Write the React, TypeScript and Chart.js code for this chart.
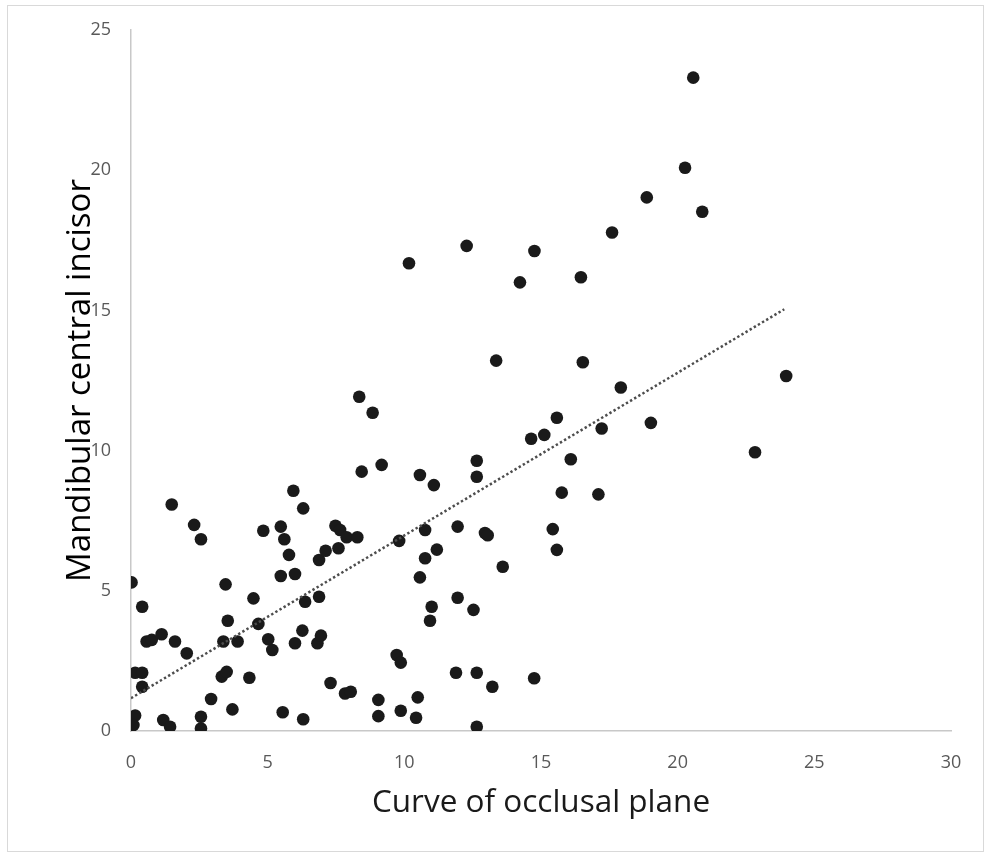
import React, { useEffect, useRef } from "react";
import { Chart, registerables } from "chart.js";

Chart.register(...registerables);

// Curve of occlusal plane (x)
const curveOfOcclusalPlane = [
  0.02, 0.41, 0.15, 0.41, 0.41, 0.15, 0.09, 0.57, 0.76, 1.12,
  1.61, 1.18, 1.43, 1.49, 2.04, 2.31, 2.56, 2.56, 2.56, 2.93,
  3.32, 3.5, 3.38, 3.46, 3.54, 3.71, 3.9, 4.33, 4.48, 4.66,
  4.84, 5.02, 5.17, 5.48, 5.61, 5.78, 5.48, 6.0, 5.55, 5.94,
  6.3, 6.27, 6.0, 6.3, 6.37, 6.88, 6.82, 6.95, 6.88, 7.12,
  7.48, 7.65, 7.59, 7.89, 8.28, 7.3, 7.83, 8.04, 8.35, 8.84,
  8.44, 9.17, 9.05, 9.05, 9.72, 9.87, 9.87, 9.81, 10.17, 10.57,
  11.08, 10.76, 10.76, 11.19, 10.57, 11.0, 10.94, 10.49, 10.43, 11.95,
  11.95, 12.53, 11.89, 12.65, 12.65, 12.28, 12.65, 12.65, 12.95, 13.05,
  13.22, 13.6, 13.36, 14.23, 14.76, 14.75, 14.64, 15.12, 15.58, 15.43,
  15.58, 15.76, 16.09, 16.46, 16.53, 17.1, 17.22, 17.6, 17.92, 18.87,
  19.02, 20.27, 20.57, 20.9, 22.83, 23.97,
];

// Mandibular central incisor (y)
const mandibularCentralIncisor = [
  5.3, 4.43, 2.08, 2.08, 1.58, 0.55, 0.21, 3.19, 3.25, 3.45,
  3.19, 0.39, 0.15, 8.08, 2.77, 7.35, 6.84, 0.51, 0.09, 1.14,
  1.94, 2.11, 3.19, 5.23, 3.93, 0.77, 3.19, 1.9, 4.73, 3.82,
  7.14, 3.27, 2.89, 7.29, 6.84, 6.28, 5.53, 5.6, 0.67, 8.57,
  7.94, 3.58, 3.13, 0.42, 4.61, 4.79, 3.13, 3.4, 6.1, 6.43,
  7.32, 7.17, 6.52, 6.91, 6.91, 1.71, 1.34, 1.4, 11.92, 11.35,
  9.25, 9.49, 1.11, 0.53, 2.71, 2.44, 0.72, 6.78, 16.68, 9.13,
  8.77, 7.17, 6.16, 6.47, 5.48, 4.43, 3.93, 1.2, 0.47, 7.29,
  4.75, 4.32, 2.08, 2.08, 0.15, 17.3, 9.64, 9.07, 7.06, 6.98,
  1.58, 5.86, 13.21, 16.0, 17.12, 1.88, 10.42, 10.56, 11.17, 7.2,
  6.46, 8.5, 9.69, 16.18, 13.15, 8.44, 10.79, 17.78, 12.25, 19.03,
  10.99, 20.09, 23.3, 18.52, 9.94, 12.66,
];

// Linear trendline end points
const trendX = [0, 23.9];
const trendY = [1.17, 15.04];

const xTicks = [0, 5, 10, 15, 20, 25, 30];
const yTicks = [0, 5, 10, 15, 20, 25];

const xTitle = "Curve of occlusal plane";
const yTitle = "Mandibular central incisor";

export default function App() {
  const canvasRef = useRef<HTMLCanvasElement | null>(null);

  useEffect(() => {
    const canvas = canvasRef.current;
    if (!canvas) return;

    const points = curveOfOcclusalPlane.map((x, i) => ({ x, y: mandibularCentralIncisor[i] }));
    const trend = trendX.map((x, i) => ({ x, y: trendY[i] }));

    const zeroPad = (scale: any) => {
      scale.paddingLeft = 0;
      scale.paddingRight = 0;
      scale.paddingTop = 0;
      scale.paddingBottom = 0;
    };

    const tickFont = { family: "'Open Sans', sans-serif", size: 18 };

    const chart = new Chart(canvas, {
      type: "scatter",
      data: {
        datasets: [
          {
            type: "line",
            data: trend,
            borderColor: "#4d4d4d",
            borderWidth: 2.5,
            borderDash: [2.4, 2.4],
            pointRadius: 0,
            fill: false,
            order: 0,
          } as any,
          {
            type: "scatter",
            data: points,
            backgroundColor: "#1a1a1a",
            borderWidth: 0,
            pointRadius: 6.3,
            order: 1,
          },
        ],
      },
      options: {
        animation: false,
        responsive: false,
        devicePixelRatio: 1,
        layout: { padding: { left: 0, top: 30, right: 36, bottom: 0 } },
        plugins: {
          legend: { display: false },
          tooltip: { enabled: false },
        },
        scales: {
          x: {
            type: "linear",
            min: 0,
            max: 30,
            afterBuildTicks: (scale: any) => {
              scale.ticks = xTicks.map((v) => ({ value: v }));
            },
            afterFit: (scale: any) => {
              scale.height = 121;
              zeroPad(scale);
            },
            ticks: {
              color: "#595959",
              font: tickFont,
              padding: 21,
              maxRotation: 0,
            },
            grid: { drawOnChartArea: false, drawTicks: false },
            border: { display: true, color: "#c8c8c8", width: 1.5 },
            title: {
              display: true,
              text: xTitle,
              color: "#1a1a1a",
              font: { family: "'Open Sans', sans-serif", size: 31.5 },
              padding: { top: 0, bottom: 30 },
            },
          },
          y: {
            type: "linear",
            min: 0,
            max: 25,
            afterBuildTicks: (scale: any) => {
              scale.ticks = yTicks.map((v) => ({ value: v }));
            },
            afterFit: (scale: any) => {
              scale.width = 131;
              zeroPad(scale);
            },
            ticks: {
              color: "#595959",
              font: tickFont,
              padding: 20,
            },
            grid: { drawOnChartArea: false, drawTicks: false },
            border: { display: true, color: "#c8c8c8", width: 1.5 },
            title: {
              display: true,
              text: yTitle,
              color: "#000000",
              font: { family: "'Open Sans', sans-serif", size: 33 },
              padding: { top: 61, bottom: 0 },
            },
          },
        },
      } as any,
    });

    return () => {
      chart.destroy();
    };
  }, []);

  return (
    <div style={{ position: "absolute", left: 0, top: 0, width: 987, height: 852, background: "#ffffff" }}>
      <div
        style={{
          position: "absolute",
          left: 7,
          top: 5,
          width: 977,
          height: 847,
          boxSizing: "border-box",
          border: "1px solid #d9d9d9",
        }}
      />
      <canvas
        ref={canvasRef}
        width={987}
        height={852}
        style={{ position: "absolute", left: 0, top: 0, width: 987, height: 852, display: "block" }}
      />
    </div>
  );
}
